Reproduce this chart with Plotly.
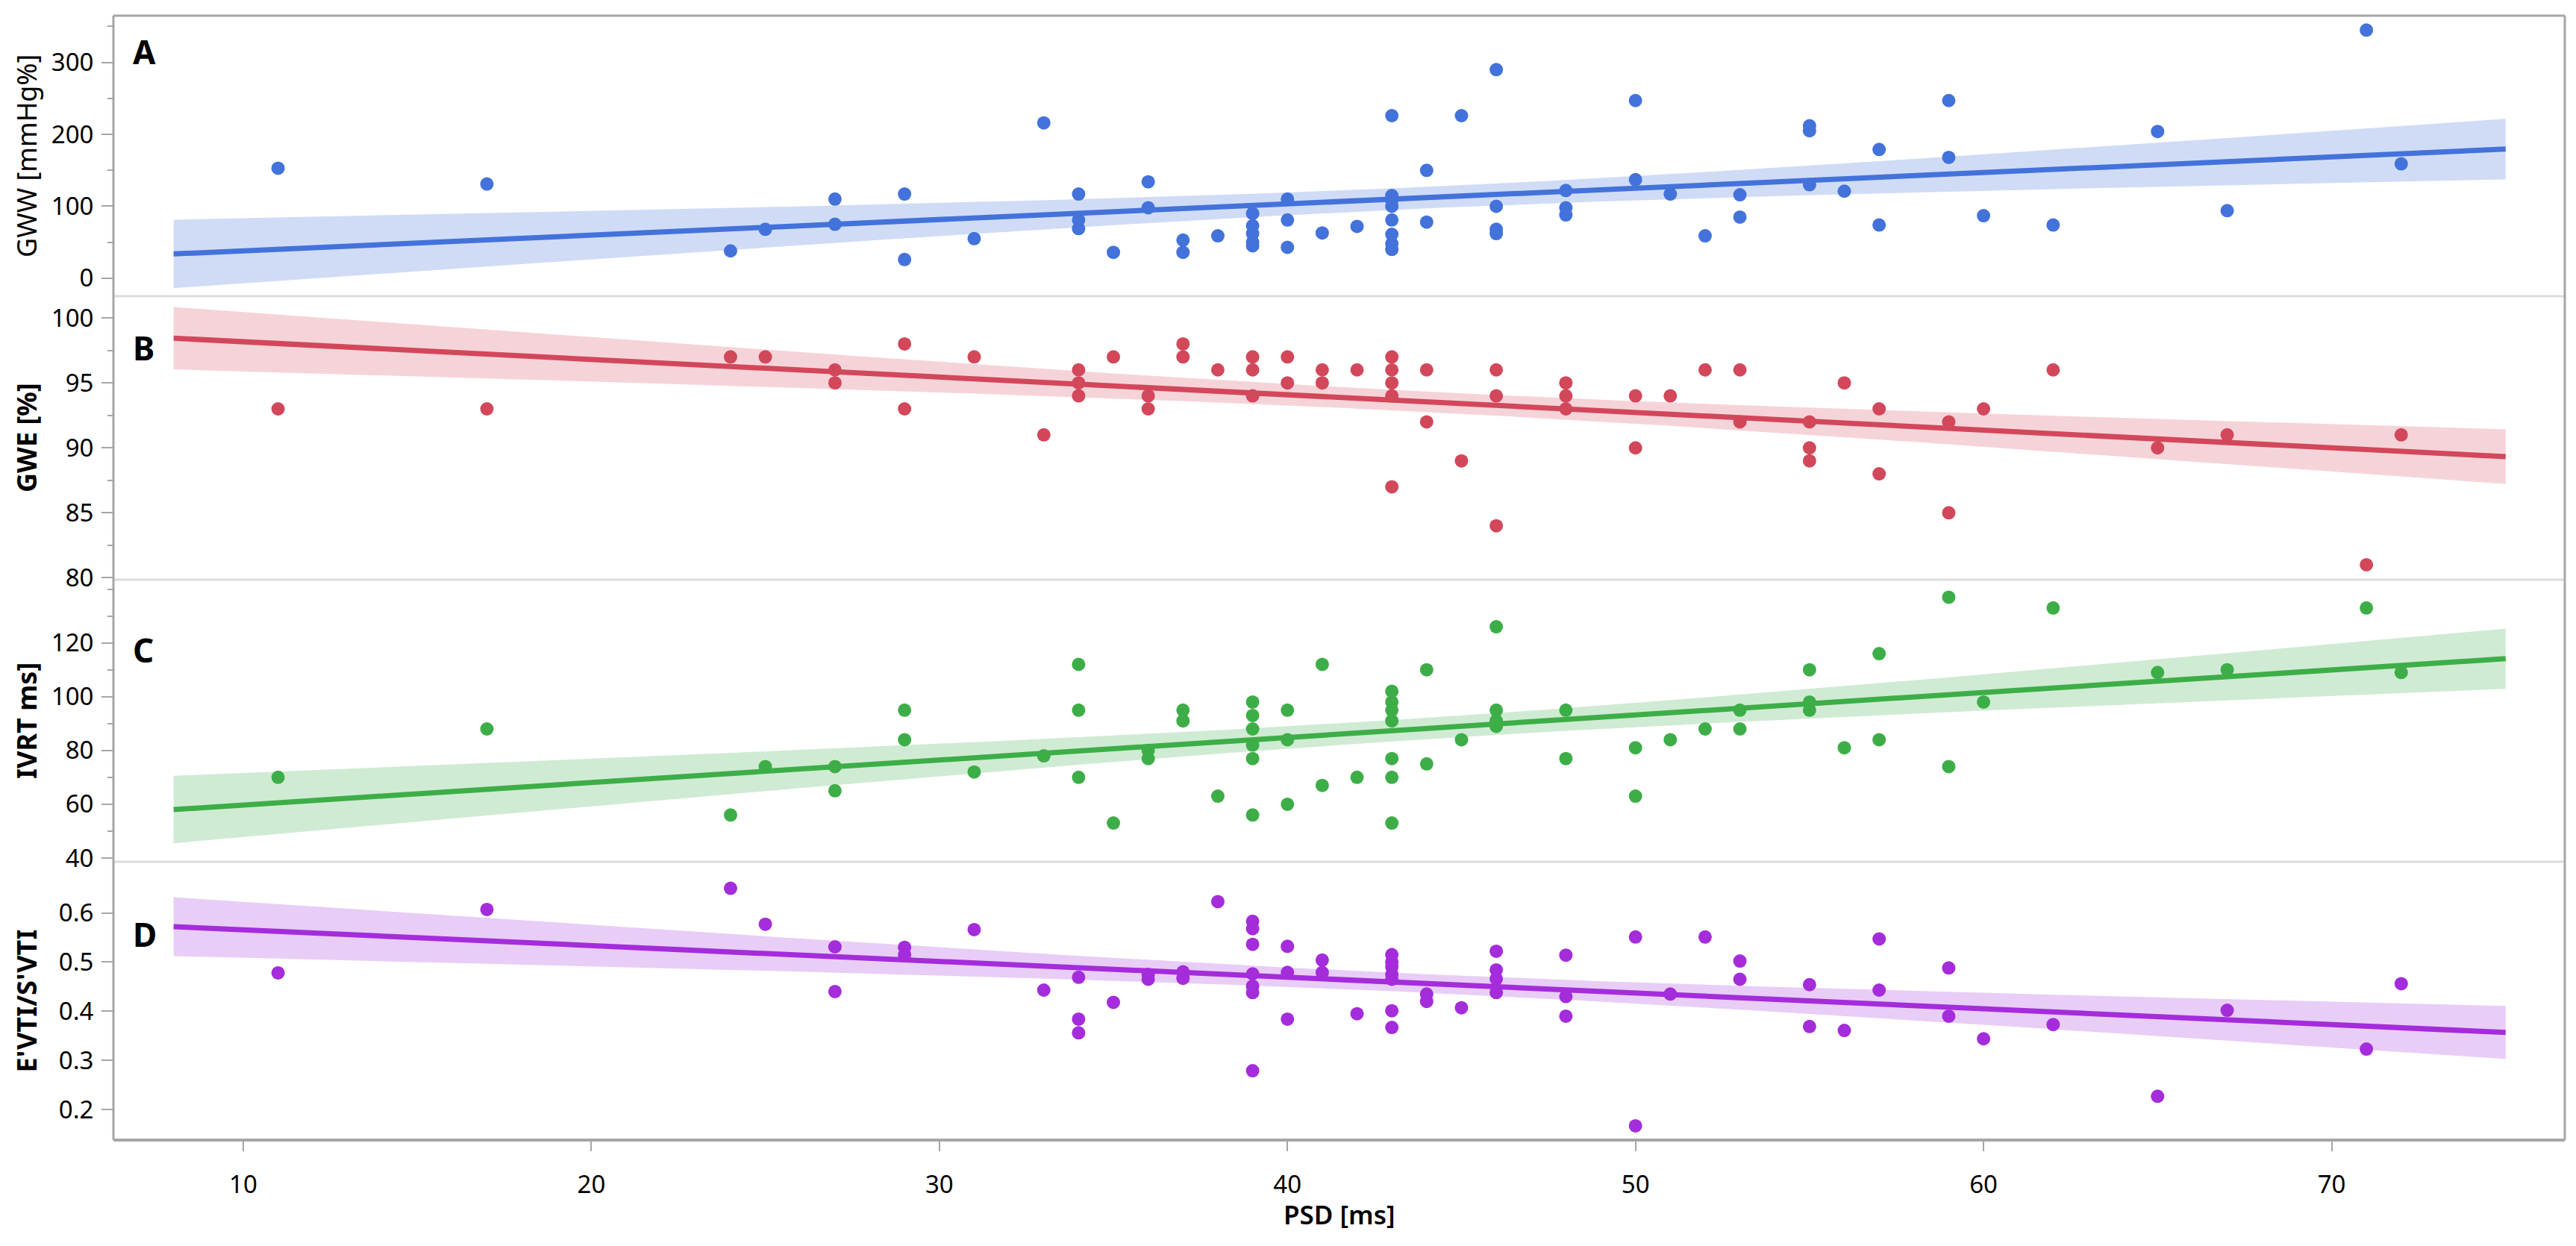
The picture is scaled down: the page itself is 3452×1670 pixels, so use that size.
import numpy as np
import plotly.graph_objects as go
from plotly.subplots import make_subplots

# ---------------- data ----------------
psd_a = [11,17,24,25,27,27,29,29,31,33,34,34,34,35,36,36,37,37,38,39,39,39,39,39,40,40,40,41,42,
         43,43,43,43,43,43,43,43,44,44,45,46,46,46,46,48,48,48,50,50,51,52,53,53,55,55,55,56,57,57,
         59,59,60,62,65,67,71,72]
gww = [153,131,38,68,110,75,117,26,55,216,117,81,69,36,134,98,53,36,59,90,73,62,50,45,110,81,43,63,72,
       226,115,108,100,81,61,48,40,150,78,226,290,100,68,62,122,98,88,247,137,117,59,116,85,212,205,130,121,179,74,
       247,168,87,74,204,94,345,159]

psd_b = [11,17,24,25,27,27,29,29,31,33,34,34,34,35,36,36,37,37,38,39,39,39,40,40,41,41,42,
         43,43,43,43,43,44,44,45,46,46,46,48,48,48,50,50,51,52,53,53,55,55,55,56,57,57,59,59,60,62,65,67,71,72]
gwe = [93,93,97,97,96,95,98,93,97,91,96,95,94,97,94,93,98,97,96,97,96,94,97,95,96,95,96,
       97,96,95,94,87,96,92,89,96,94,84,95,94,93,94,90,94,96,96,92,92,90,89,95,93,88,92,85,93,96,90,91,81,91]

psd_c = [11,17,24,25,27,27,29,29,31,33,34,34,34,35,36,36,37,37,38,39,39,39,39,39,39,40,40,40,41,41,42,
         43,43,43,43,43,43,43,44,44,45,46,46,46,46,48,48,50,50,51,52,53,53,55,55,55,56,57,57,59,59,60,62,65,67,71,72]
ivrt = [70,88,56,74,74,65,95,84,72,78,112,95,70,53,80,77,95,91,63,98,93,88,82,77,56,95,84,60,112,67,70,
        102,98,95,91,77,70,53,110,75,84,126,95,91,89,95,77,81,63,84,88,95,88,110,98,95,81,116,84,137,74,98,133,109,110,133,109]

psd_d = [11,17,24,25,27,27,29,29,31,33,34,34,34,35,36,36,37,37,38,39,39,39,39,39,39,39,40,40,40,41,41,42,
         43,43,43,43,43,43,43,44,44,45,46,46,46,46,48,48,48,50,50,51,52,53,53,55,55,56,57,57,59,59,60,62,65,67,71,72]
evti = [0.478,0.607,0.650,0.577,0.531,0.440,0.530,0.515,0.566,0.443,0.469,0.384,0.356,0.418,0.475,0.465,
        0.480,0.467,0.623,0.583,0.568,0.536,0.476,0.451,0.438,0.279,0.532,0.479,0.384,0.504,0.479,0.395,
        0.515,0.500,0.490,0.475,0.465,0.401,0.367,0.435,0.420,0.407,0.522,0.484,0.466,0.438,0.514,0.430,0.390,
        0.551,0.167,0.435,0.551,0.502,0.465,0.454,0.369,0.361,0.547,0.443,0.488,0.390,0.344,0.373,0.227,0.402,0.323,0.456]

fit_span = [8, 75]          # x-extent of the fitted line / confidence band
t_crit = 1.997              # t(0.975, n-2)

panel_letters = ["A", "B", "C", "D"]
y_titles = ["GWW [mmHg%]", "GWE [%]", "IVRT ms]", "E'VTI/S'VTI"]
x_title = "PSD [ms]"
x_ticks = [10, 20, 30, 40, 50, 60, 70]

# ---------------- style ----------------
dot_colors = ["#4372DB", "#D3475A", "#3DAE47", "#A42CDB"]
band_colors = ["#D0DCF6", "#F5D4D9", "#D0EBD4", "#E8CDF6"]
FONT = "Noto Sans"

W, H = 3436, 1654
ML, MR, MT, MB = 144, 7, 13, 134
plot_h = H - MT - MB
# panel separators (figure px from top of plot area)
sep_px = [376, 756, 1134]
seps = [1 - p / plot_h for p in sep_px]
domains = [[seps[0], 1.0], [seps[1], seps[0]], [seps[2], seps[1]], [0.0, seps[2]]]

fig = make_subplots(rows=4, cols=1, shared_xaxes=True, vertical_spacing=0)

panels = [(psd_a, gww), (psd_b, gwe), (psd_c, ivrt), (psd_d, evti)]
for i, (xs, ys) in enumerate(panels):
    x = np.array(xs, float)
    y = np.array(ys, float)
    n = len(x)
    xbar = x.mean()
    sxx = ((x - xbar) ** 2).sum()
    b1 = ((x - xbar) * (y - y.mean())).sum() / sxx
    b0 = y.mean() - b1 * xbar
    s = np.sqrt(((y - (b0 + b1 * x)) ** 2).sum() / (n - 2))
    xg = np.linspace(fit_span[0], fit_span[1], 200)
    yg = b0 + b1 * xg
    hw = t_crit * s * np.sqrt(1 / n + (xg - xbar) ** 2 / sxx)
    row = i + 1
    fig.add_trace(go.Scatter(x=np.concatenate([xg, xg[::-1]]),
                             y=np.concatenate([yg + hw, (yg - hw)[::-1]]),
                             fill="toself", fillcolor=band_colors[i], line=dict(width=0),
                             mode="lines", hoverinfo="skip", showlegend=False), row=row, col=1)
    fig.add_trace(go.Scatter(x=xg, y=yg, mode="lines", line=dict(color=dot_colors[i], width=7),
                             showlegend=False), row=row, col=1)
    fig.add_trace(go.Scatter(x=xs, y=ys, mode="markers",
                             marker=dict(color=dot_colors[i], size=18, line=dict(width=0)),
                             showlegend=False), row=row, col=1)

yranges = [[-25, 365], [79.85, 101.67], [38.6, 143.5], [0.138, 0.704]]
ytickvals = [[0, 100, 200, 300], [80, 85, 90, 95, 100], [40, 60, 80, 100, 120], [0.2, 0.3, 0.4, 0.5, 0.6]]
yticktext = [["0", "100", "200", "300"], ["80", "85", "90", "95", "100"],
             ["40", "60", "80", "100", "120"], ["0.2", "0.3", "0.4", "0.5", "0.6"]]
yminor = [dict(tick0=0, dtick=50), dict(tick0=80, dtick=2.5), dict(tick0=40, dtick=10), None]

axis_gray = "#A6A6A6"
for i in range(4):
    ya = "yaxis" if i == 0 else f"yaxis{i+1}"
    ycfg = dict(domain=domains[i], range=yranges[i], tickmode="array", tickvals=ytickvals[i],
                ticktext=yticktext[i], ticks="outside", ticklen=15, tickwidth=2, tickcolor=axis_gray,
                showgrid=False, zeroline=False, showline=False,
                tickfont=dict(family=FONT, size=33, color="#000000"), ticklabelstandoff=4)
    if yminor[i] is not None:
        ycfg["minor"] = dict(ticks="outside", ticklen=7, tickwidth=2, tickcolor=axis_gray,
                             showgrid=False, **yminor[i])
    fig.layout[ya].update(ycfg)
    xa = "xaxis" if i == 0 else f"xaxis{i+1}"
    xcfg = dict(range=[6.27, 76.7], showgrid=False, zeroline=False, showline=False)
    if i == 3:
        xcfg.update(tickmode="array", tickvals=x_ticks, ticktext=[str(v) for v in x_ticks],
                    ticks="outside", ticklen=14, tickwidth=2, tickcolor=axis_gray,
                    tickfont=dict(family=FONT, size=33, color="#000000"), ticklabelstandoff=16)
    else:
        xcfg.update(ticks="", showticklabels=False)
    fig.layout[xa].update(xcfg)

# panel letters (data coords)
letter_y = [315, 97.7, 117.4, 0.557]
for i in range(4):
    fig.add_annotation(x=6.78, y=letter_y[i], xref="x" if i == 0 else f"x{i+1}",
                       yref="y" if i == 0 else f"y{i+1}", text=panel_letters[i], showarrow=False,
                       xanchor="left", yanchor="middle",
                       font=dict(family=FONT, size=44, color="#000000", weight=700))

# y titles
for i in range(4):
    cy = (domains[i][0] + domains[i][1]) / 2
    fig.add_annotation(x=-117 / (W - ML - MR), y=cy, xref="paper", yref="paper", text=y_titles[i],
                       textangle=-90, showarrow=False, xanchor="center", yanchor="middle",
                       font=dict(family=FONT, size=36, color="#000000", weight=400 if i == 0 else 700))

fig.add_annotation(x=0.5, y=-99 / plot_h, xref="paper", yref="paper", text=x_title, showarrow=False,
                   xanchor="center", yanchor="middle",
                   font=dict(family=FONT, size=35, color="#000000", weight=600))

# frame and separators
shapes = []
for yv in seps:
    shapes.append(dict(type="line", xref="paper", yref="paper", x0=0, x1=1, y0=yv, y1=yv,
                       line=dict(color="#DCDCDC", width=3)))
shapes += [
    dict(type="line", xref="paper", yref="paper", x0=0, x1=1, y0=1, y1=1, line=dict(color=axis_gray, width=3)),
    dict(type="line", xref="paper", yref="paper", x0=0, x1=1, y0=0, y1=0, line=dict(color=axis_gray, width=4)),
    dict(type="line", xref="paper", yref="paper", x0=0, x1=0, y0=0, y1=1, line=dict(color=axis_gray, width=3)),
    dict(type="line", xref="paper", yref="paper", x0=1, x1=1, y0=0, y1=1, line=dict(color=axis_gray, width=3)),
]

fig.update_layout(width=W, height=H, margin=dict(l=ML, r=MR, t=MT, b=MB),
                  paper_bgcolor="white", plot_bgcolor="white", shapes=shapes, showlegend=False,
                  font=dict(family=FONT, color="#000000"))

fig.write_html("out.html")
